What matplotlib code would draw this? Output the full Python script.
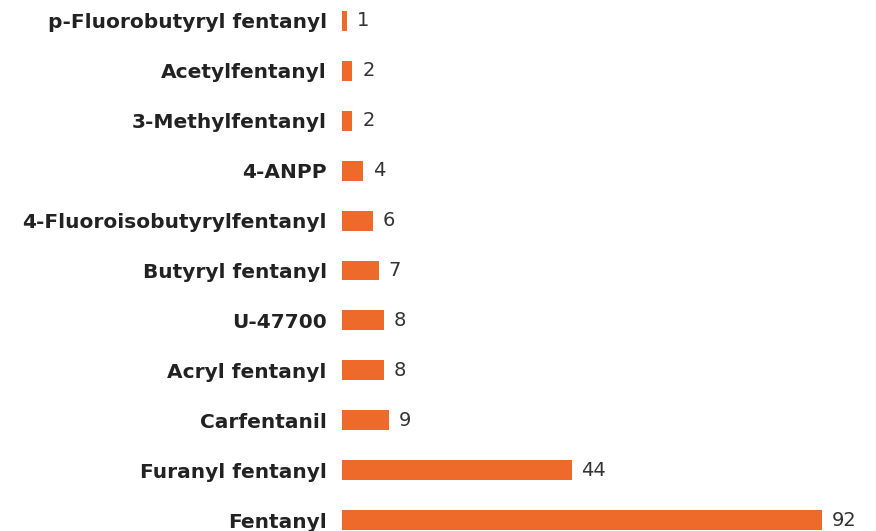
import matplotlib.pyplot as plt
import numpy as np

# categories top to bottom as shown
drugs = ["p-Fluorobutyryl fentanyl", "Acetylfentanyl", "3-Methylfentanyl", "4-ANPP",
         "4-Fluoroisobutyrylfentanyl", "Butyryl fentanyl", "U-47700", "Acryl fentanyl",
         "Carfentanil", "Furanyl fentanyl", "Fentanyl"]
counts = [1, 2, 2, 4, 6, 7, 8, 8, 9, 44, 92]

bar_color = "#EE6A2A"

fig = plt.figure(figsize=(8.76, 5.31), dpi=100)
ax = fig.add_axes([342 / 876, 0, 534 / 876, 1])

# Fentanyl at y=0 (bottom)
ypos = np.arange(len(drugs))[::-1]
ax.barh(ypos, counts, height=0.4, color=bar_color)

for y, v in zip(ypos, counts):
    ax.annotate(str(v), (v, y), xytext=(7, 0), textcoords="offset points",
                ha="left", va="center", fontsize=14, color="#333333")

ax.set_xlim(0, 102.3)
ax.set_ylim(-0.22, 10.42)
ax.set_yticks(ypos)
ax.set_yticklabels(drugs, fontsize=14.5, fontweight="bold", color="#222222")
ax.tick_params(axis="y", length=0, pad=11)
ax.set_xticks([])
for s in ax.spines.values():
    s.set_visible(False)

fig.savefig("out.png", dpi=100)
